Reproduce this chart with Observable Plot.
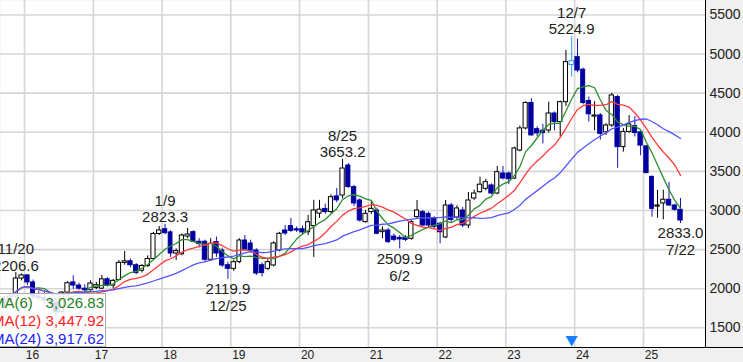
<!DOCTYPE html>
<html><head><meta charset="utf-8">
<script src="https://cdn.jsdelivr.net/npm/d3@7"></script>
<script src="https://cdn.jsdelivr.net/npm/@observablehq/plot@0.6"></script>
<style>
body{margin:0;background:#fff;}
#wrap{position:relative;width:743px;height:362px;overflow:hidden;background:#f0f0f0;font-family:"Liberation Sans",Arial,sans-serif;}
#legend{position:absolute;left:-12px;top:293px;width:118px;height:54px;border:1px solid #a8a8a8;background:rgba(255,255,255,0.86);font-size:15px;line-height:18px;box-sizing:border-box;padding:0 1px 0 3px;}
#legend .row{display:flex;justify-content:space-between;}
</style></head>
<body><div id="wrap"></div>
<script>
const months = ["2015-09","2015-10","2015-11","2015-12",
"2016-01","2016-02","2016-03","2016-04","2016-05","2016-06","2016-07","2016-08","2016-09","2016-10","2016-11","2016-12",
"2017-01","2017-02","2017-03","2017-04","2017-05","2017-06","2017-07","2017-08","2017-09","2017-10","2017-11","2017-12",
"2018-01","2018-02","2018-03","2018-04","2018-05","2018-06","2018-07","2018-08","2018-09","2018-10","2018-11","2018-12",
"2019-01","2019-02","2019-03","2019-04","2019-05","2019-06","2019-07","2019-08","2019-09","2019-10","2019-11","2019-12",
"2020-01","2020-02","2020-03","2020-04","2020-05","2020-06","2020-07","2020-08","2020-09","2020-10","2020-11","2020-12",
"2021-01","2021-02","2021-03","2021-04","2021-05","2021-06","2021-07","2021-08","2021-09","2021-10","2021-11","2021-12",
"2022-01","2022-02","2022-03","2022-04","2022-05","2022-06","2022-07","2022-08","2022-09","2022-10","2022-11","2022-12",
"2023-01","2023-02","2023-03","2023-04","2023-05","2023-06","2023-07","2023-08","2023-09","2023-10","2023-11","2023-12",
"2024-01","2024-02","2024-03","2024-04","2024-05","2024-06","2024-07","2024-08","2024-09","2024-10","2024-11","2024-12",
"2025-01","2025-02","2025-03","2025-04","2025-05","2025-06","2025-07"];
const open = [1820,1850,1900,2130,
2170,2080,1900,1880,1850,1820,1700,1950,2080,2040,2000,1980,
2010,2000,2120,2040,2110,2330,2350,2300,2230,2290,2380,2700,
2760,2720,2450,2440,2667,2723,2600,2600,2370,2595,2488,2300,
2254,2339,2616,2578,2488,2300,2254,2297,2488,2744,2800,2760,
2760,2722,2800,2960,3020,2980,3180,3192,3575,3298,3128,2851,
2979,3000,2723,2744,2667,2650,2651,2638,2915,2979,2957,2898,
2830,2655,3064,2910,3000,2808,3153,3234,3277,3320,3217,3473,
3473,3409,3767,4049,4375,4040,4020,4023,4240,4130,4385,4860,
4960,4800,4400,4200,4215,4000,4087,4450,3810,4004,4080,4000,
3820,3430,3050,3090,3137,3064,3009];
const high = [1900,1930,2206.6,2190,
2180,2110,1960,1950,1900,1860,1960,2090,2165,2070,2050,2100,
2080,2170,2140,2120,2360,2476,2380,2320,2310,2420,2720,2795,
2823.3,2740,2510,2700,2770,2740,2640,2620,2640,2660,2520,2340,
2360,2640,2680,2620,2510,2330,2370,2600,2720,2808,2898,2790,
2800,2936,3130,3130,3080,3200,3280,3653.2,3600,3320,3150,3000,
3128,3030,2790,2770,2700,2680,2680,2870,3128,3000,2980,2920,
2850,3128,3090,3060,3040,3230,3260,3426,3400,3340,3563,3563,
3490,3810,4080,4390,4430,4070,4100,4385,4260,4400,5046,5224.9,
5190,4820,4450,4390,4240,4110,4500,4470,4050,4215,4200,4010,
3830,3440,3256,3260,3360,3080,3153];
const low = [1760,1820,1880,2100,
2040,1860,1850,1800,1780,1650,1690,1900,1990,1980,1920,1970,
1990,1990,2020,2000,2100,2300,2270,2180,2200,2270,2370,2680,
2690,2400,2360,2420,2640,2590,2520,2340,2350,2400,2270,2119.9,
2220,2320,2480,2460,2170,2150,2230,2280,2470,2680,2720,2720,
2690,2680,2400,2900,2950,2960,3100,3150,3280,3050,2850,2840,
2950,2690,2640,2580,2600,2509.9,2600,2620,2900,2790,2780,2760,
2574,2640,2850,2880,2780,2770,3130,3220,3250,3200,3200,3390,
3330,3400,3750,4030,3950,3940,3850,3990,4020,3938,4330,4705,
4760,4350,4130,4020,3900,3960,4060,3540,3746,3990,3940,3700,
3470,2914,2900,2880,3050,2990,2833];
const close = [1850,1900,2130,2170,
2080,1900,1880,1850,1820,1700,1950,2070,2040,2000,1980,2066,
2045,2120,2040,2100,2330,2350,2300,2200,2290,2380,2700,2745,
2710,2450,2480,2680,2693,2600,2570,2370,2574,2450,2297,2254,
2339,2616,2500,2488,2194,2200,2339,2578,2702,2706,2740,2744,
2720,2850,3000,3010,2980,3170,3130,3537,3300,3090,2872,2957,
3021,2702,2744,2595,2625,2630,2625,2851,3000,2808,2808,2790,
2722,3064,2880,3026,2808,3128,3217,3330,3362,3217,3490,3409,
3400,3793,4049,4375,3960,3985,3990,4240,4130,4385,4897,4910,
4790,4375,4230,4215,3980,4087,4471,3810,4004,4100,3990,3830,
3478,3021,3064,3137,3064,3009,2872];
const highlightMonth = "2023-12";
const yTicks = [1500,2000,2500,3000,3500,4000,4500,5000,5500];
const yearTicks = ["2016","2017","2018","2019","2020","2021","2022","2023","2024","2025"];
const maPeriods = [6,12,24];
const maNames = ["MA(6)","MA(12)","MA(24)"];
const maLast = ["3,026.83","3,447.92","3,917.62"];
const maLineColors = ["#2f8f2f","#ff3b3b","#5555ff"];
const maTextColors = ["#1f7f1f","#ff2020","#2222ff"];
const annMonth = ["2015-11","2018-01","2020-08","2023-12","2018-12","2021-06","2025-07"];
const annDate = ["11/20","1/9","8/25","12/7","12/25","6/2","7/22"];
const annValue = [2206.6,2823.3,3653.2,5224.9,2119.9,2509.9,2833.0];
const annKind = ["high","high","high","high","low","low","low"];

const parseM = s => new Date(s + "-01T00:00:00Z");
const table = months.map((m, i) => {
  const start = parseM(m), end = d3.utcMonth.offset(start, 1);
  return {month: m, start, end, date: new Date((+start + +end) / 2),
    open: open[i], high: high[i], low: low[i], close: close[i],
    up: close[i] >= open[i], hl: m === highlightMonth};
});
const DOWN = "#0000a0", DOWNWICK = "#1414b8", HL = "#3399ff";
const ann = annMonth.map((m, i) => ({
  date: table.find(t => t.month === m).date, value: annValue[i], kind: annKind[i],
  label: annKind[i] === "high" ? `${annDate[i]}\n${annValue[i].toFixed(1)}` : `${annValue[i].toFixed(1)}\n${annDate[i]}`
}));
const yearDates = yearTicks.map(y => new Date(y + "-01-01T00:00:00Z"));
const xDomain = [new Date("2015-08-26T12:00:00Z"), new Date("2025-11-26T06:00:00Z")];
const yDomain = [1248, 5685];

const chart = Plot.plot({
  width: 743, height: 362,
  marginLeft: 0, marginRight: 38, marginTop: 0, marginBottom: 15,
  x: {type: "utc", domain: xDomain},
  y: {domain: yDomain},
  style: {fontFamily: "Liberation Sans, Arial, sans-serif", background: "transparent", color: "#222", overflow: "hidden"},
  marks: [
    Plot.frame({fill: "white", stroke: null}),
    Plot.gridY(yTicks, {stroke: "#d6d6d6", strokeOpacity: 1, strokeWidth: 1.6}),
    Plot.gridX(yearDates, {stroke: "#d6d6d6", strokeOpacity: 1, strokeWidth: 1.6}),
    Plot.ruleX(table, {x: "date", y1: "low", y2: "high", strokeWidth: 1,
      stroke: d => d.hl ? HL : d.up ? "#000" : DOWNWICK}),
    Plot.rect(table, {x1: "start", x2: "end", y1: "open", y2: "close", insetLeft: 0.75, insetRight: 0.75,
      fill: d => d.hl ? "white" : d.up ? "white" : DOWN,
      stroke: d => d.hl ? HL : d.up ? "#000" : DOWN, strokeWidth: 1}),
    ...maPeriods.map((k, i) => Plot.lineY(table, Plot.windowY({k, anchor: "end", reduce: "mean", strict: false},
      {x: "date", y: "close", stroke: maLineColors[i], strokeWidth: 1.3}))),
    Plot.text(ann.filter(d => d.kind === "high"), {x: "date", y: "value", text: "label", lineAnchor: "bottom",
      dy: -2, fontSize: 15, lineHeight: 1.12, fill: "#222"}),
    Plot.text(ann.filter(d => d.kind === "low"), {x: "date", y: "value", text: "label", lineAnchor: "top",
      dy: 3, fontSize: 15, lineHeight: 1.12, fill: "#222"}),
    Plot.dot(table.filter(d => d.hl), {x: "date", frameAnchor: "bottom", dy: -8, symbol: "triangle",
      r: 4.5, rotate: 180, fill: "#1a7cff", stroke: null}),
    Plot.ruleX([xDomain[1]], {stroke: "#000", strokeWidth: 1}),
    Plot.ruleY([yDomain[0]], {stroke: "#000", strokeWidth: 1, insetRight: -38}),
    Plot.axisY(yTicks, {anchor: "right", tickSize: 0, tickPadding: 4, fontSize: 14, tickFormat: d => `${d}`}),
    Plot.axisX(yearDates, {anchor: "bottom", tickSize: 0, tickPadding: 3, fontSize: 12, dx: 8, tickFormat: d3.utcFormat("%y")})
  ]
});
const wrap = document.getElementById("wrap");
wrap.appendChild(chart);
const legend = document.createElement("div");
legend.id = "legend";
legend.innerHTML = maNames.map((n, i) =>
  `<div class="row" style="color:${maTextColors[i]}"><span>${n}</span><span>${maLast[i]}</span></div>`).join("");
wrap.appendChild(legend);
</script>
</body></html>
